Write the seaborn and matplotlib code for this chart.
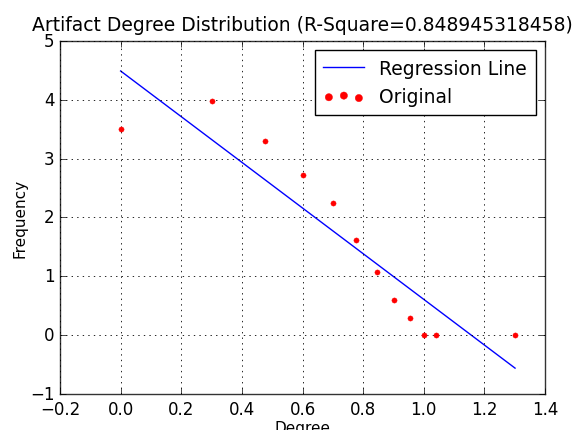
import matplotlib
matplotlib.use("Agg")
import matplotlib.pyplot as plt
import seaborn as sns
import pandas as pd

degree = [0.0, 0.301, 0.477, 0.602, 0.699, 0.778, 0.845, 0.903, 0.954, 1.0, 1.041, 1.301]
frequency = [3.50, 3.98, 3.30, 2.73, 2.25, 1.62, 1.08, 0.60, 0.30, 0.0, 0.0, 0.0]
line_x = [0.0, 1.301]
line_y = [4.49, -0.56]
title = "Artifact Degree Distribution (R-Square=0.848945318458)"

plt.style.use("classic")
plt.rcParams["font.family"] = ["DejaVu Sans"]

fig = plt.figure(figsize=(5.78, 4.31), dpi=100, facecolor="white")
ax = fig.add_axes([0.1038, 0.0835, 0.8392, 0.8191])

sns.lineplot(x=line_x, y=line_y, ax=ax, color="blue", label="Regression Line", lw=1)
sns.scatterplot(x=degree, y=frequency, ax=ax, color="red", edgecolor="red", s=14,
                label="Original", zorder=3)

ax.set_xlim(-0.2, 1.4)
ax.set_ylim(-1, 5)
ax.set_xticks([-0.2, 0.0, 0.2, 0.4, 0.6, 0.8, 1.0, 1.2, 1.4])
ax.set_yticks([-1, 0, 1, 2, 3, 4, 5])
ax.grid(True, linestyle=":", color="black", linewidth=0.6)
for sp in ax.spines.values():
    sp.set_color("#333333")
ax.set_xlabel("Degree", fontsize=11, labelpad=2)
ax.set_ylabel("Frequency", fontsize=11, labelpad=2)
ax.set_title(title, fontsize=13.5, pad=8)
ax.legend(loc="upper right", fontsize=13.5, scatterpoints=3, numpoints=1,
          markerscale=1.4, borderpad=0.45, handlelength=2.2)

fig.savefig("out.png", dpi=100, facecolor="white")
